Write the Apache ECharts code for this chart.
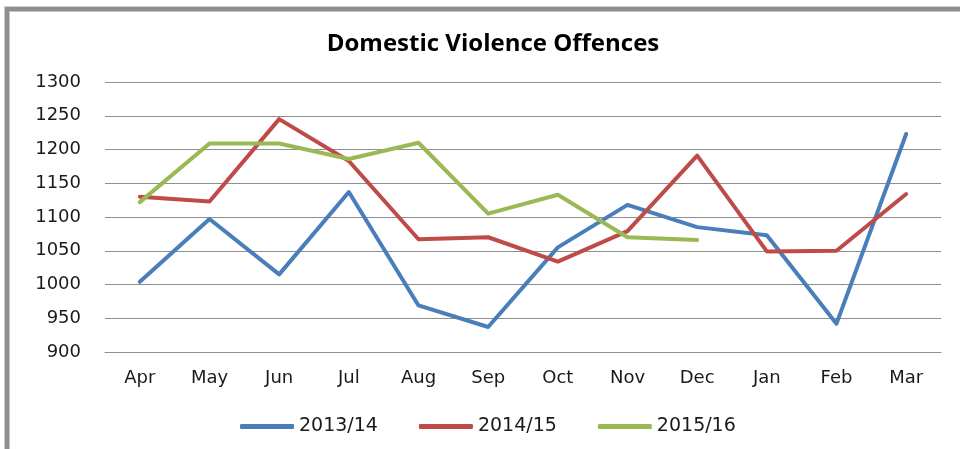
<!DOCTYPE html>
<html>
<head>
<meta charset="utf-8">
<script src="https://cdn.jsdelivr.net/npm/echarts@6/dist/echarts.min.js"></script>
<style>
  html, body { margin: 0; padding: 0; background: #fff; }
  #wrap { position: relative; width: 960px; height: 449px; overflow: hidden; }
  #chart { position: absolute; left: 0; top: 0; width: 960px; height: 449px; }
  /* grey frame of the original sheet, only top and left edges are visible */
  #frame {
    position: absolute; left: 5px; top: 7px; right: -20px; bottom: -20px;
    border-left: 4px solid #8f8f8f; border-top: 4px solid #8f8f8f;
    box-shadow: -1px -1px 0 #d0d0d0, inset 1px 1px 0 #c4c4c4;
    pointer-events: none;
  }
</style>
</head>
<body>
<div id="wrap">
  <div id="chart"></div>
  <div id="frame"></div>
</div>
<script>
  var months = ['Apr', 'May', 'Jun', 'Jul', 'Aug', 'Sep', 'Oct', 'Nov', 'Dec', 'Jan', 'Feb', 'Mar'];
  var fy1314 = [1004, 1097, 1015, 1137, 969, 937, 1055, 1118, 1085, 1073, 942, 1223];
  var fy1415 = [1130, 1123, 1245, 1183, 1067, 1070, 1034, 1079, 1191, 1049, 1050, 1134];
  var fy1516 = [1122, 1209, 1209, 1186, 1210, 1105, 1133, 1070, 1066, null, null, null];
  var seriesNames = ['2013/14', '2014/15', '2015/16'];
  var seriesColors = ['#4a7ebb', '#be4b48', '#98b954'];

  var labelFont = 'DejaVu Sans, Verdana, sans-serif';

  function lineSeries(name, data, color) {
    return {
      name: name,
      type: 'line',
      data: data,
      symbol: 'none',
      showSymbol: false,
      connectNulls: false,
      lineStyle: { width: 4, color: color, cap: 'round', join: 'round' },
      itemStyle: { color: color },
      emphasis: { disabled: true }
    };
  }

  var chart = echarts.init(document.getElementById('chart'), null, { renderer: 'canvas' });
  chart.setOption({
    animation: false,
    backgroundColor: '#ffffff',
    title: {
      text: 'Domestic Violence Offences',
      left: 488,
      top: 27,
      textAlign: 'center',
      textStyle: { fontFamily: 'Open Sans, sans-serif', fontWeight: 'bold', fontSize: 24, color: '#000' }
    },
    legend: {
      left: 235,
      top: 412,
      itemWidth: 54,
      itemHeight: 5,
      itemGap: 41,
      icon: 'roundRect',
      data: seriesNames,
      textStyle: { fontFamily: labelFont, fontSize: 19, color: '#1a1a1a' }
    },
    grid: { left: 105, right: 19, top: 82, bottom: 97 },
    xAxis: {
      type: 'category',
      data: months,
      boundaryGap: true,
      axisLine: { show: true, lineStyle: { color: '#8e8e8e', width: 1 } },
      axisTick: { show: false },
      axisLabel: { margin: 17, fontFamily: labelFont, fontSize: 18, color: '#1a1a1a' }
    },
    yAxis: {
      type: 'value',
      min: 900,
      max: 1300,
      interval: 50,
      axisLine: { show: false },
      axisTick: { show: false },
      splitLine: { show: true, lineStyle: { color: '#8e8e8e', width: 1 } },
      axisLabel: {
        margin: 24, fontFamily: labelFont, fontSize: 18, color: '#1a1a1a',
        formatter: function (v) { return String(v); }
      }
    },
    series: [
      lineSeries(seriesNames[0], fy1314, seriesColors[0]),
      lineSeries(seriesNames[1], fy1415, seriesColors[1]),
      lineSeries(seriesNames[2], fy1516, seriesColors[2])
    ]
  });
</script>
</body>
</html>
